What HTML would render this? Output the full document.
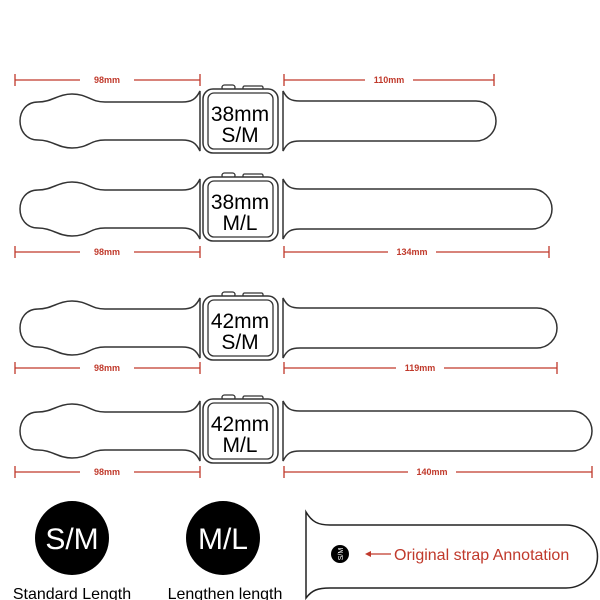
<!DOCTYPE html>
<html><head><meta charset="utf-8"><style>html,body{margin:0;padding:0;background:#fff}svg{display:block}</style></head><body>
<svg width="600" height="600" viewBox="0 0 600 600" xmlns="http://www.w3.org/2000/svg" font-family="Liberation Sans, sans-serif">
<defs>
<g id="lstrap"><path d="M200,-30 C196,-22 192,-19 182,-19 L105,-19 C90,-19 88,-27 72,-27 C58,-27 52,-19 38,-19 C14,-19 14,19 38,19 C52,19 58,27 72,27 C88,27 90,19 105,19 L182,19 C192,19 196,22 200,30 Z" fill="#fff" stroke="#333" stroke-width="1.5"/></g>
<g id="watch">
<rect x="222" y="-36" width="13" height="5" rx="2.5" fill="#fff" stroke="#333" stroke-width="1.3"/>
<rect x="243" y="-35" width="20" height="4" rx="1.5" fill="#fff" stroke="#333" stroke-width="1.3"/>
<rect x="203" y="-32" width="75" height="64" rx="10" fill="#fff" stroke="#333" stroke-width="1.5"/>
<rect x="208" y="-28" width="65" height="56" rx="6" fill="#fff" stroke="#333" stroke-width="1.3"/>
</g>
</defs>
<g stroke="#c0392b" stroke-width="1.3" fill="none">
<path d="M15,74 v12 M15,80 H80 M134,80 H200 M200,74 v12"/>
<path d="M284,74 v12 M284,80 H365 M413,80 H494 M494,74 v12"/>
<path d="M15,246 v12 M15,252 H80 M134,252 H200 M200,246 v12"/>
<path d="M284,246 v12 M284,252 H388 M436,252 H549 M549,246 v12"/>
<path d="M15,362 v12 M15,368 H80 M134,368 H200 M200,362 v12"/>
<path d="M284,362 v12 M284,368 H396 M444,368 H557 M557,362 v12"/>
<path d="M15,466 v12 M15,472 H80 M134,472 H200 M200,466 v12"/>
<path d="M284,466 v12 M284,472 H408 M456,472 H592 M592,466 v12"/>
</g>
<g fill="#c0392b" font-size="9" font-weight="bold" text-anchor="middle">
<text x="107" y="83">98mm</text><text x="389" y="83">110mm</text>
<text x="107" y="255">98mm</text><text x="412" y="255">134mm</text>
<text x="107" y="371">98mm</text><text x="420" y="371">119mm</text>
<text x="107" y="475">98mm</text><text x="432" y="475">140mm</text>
</g>
<g transform="translate(0,121)"><use href="#lstrap"/><use href="#watch"/>
<path d="M283,-30 L283,30 C287,22 291,20 300,20 L476,20 A20,20 0 0 0 476,-20 L300,-20 C291,-20 287,-22 283,-30 Z" fill="#fff" stroke="#333" stroke-width="1.5"/>
<text x="240" y="0" font-size="21" text-anchor="middle">38mm</text><text x="240" y="21" font-size="21" text-anchor="middle">S/M</text></g>
<g transform="translate(0,209)"><use href="#lstrap"/><use href="#watch"/>
<path d="M283,-30 L283,30 C287,22 291,20 300,20 L532,20 A20,20 0 0 0 532,-20 L300,-20 C291,-20 287,-22 283,-30 Z" fill="#fff" stroke="#333" stroke-width="1.5"/>
<text x="240" y="0" font-size="21" text-anchor="middle">38mm</text><text x="240" y="21" font-size="21" text-anchor="middle">M/L</text></g>
<g transform="translate(0,328)"><use href="#lstrap"/><use href="#watch"/>
<path d="M283,-30 L283,30 C287,22 291,20 300,20 L537,20 A20,20 0 0 0 537,-20 L300,-20 C291,-20 287,-22 283,-30 Z" fill="#fff" stroke="#333" stroke-width="1.5"/>
<text x="240" y="0" font-size="21" text-anchor="middle">42mm</text><text x="240" y="21" font-size="21" text-anchor="middle">S/M</text></g>
<g transform="translate(0,431)"><use href="#lstrap"/><use href="#watch"/>
<path d="M283,-30 L283,30 C287,22 291,20 300,20 L572,20 A20,20 0 0 0 572,-20 L300,-20 C291,-20 287,-22 283,-30 Z" fill="#fff" stroke="#333" stroke-width="1.5"/>
<text x="240" y="0" font-size="21" text-anchor="middle">42mm</text><text x="240" y="21" font-size="21" text-anchor="middle">M/L</text></g>
<circle cx="72" cy="538" r="37" fill="#000"/>
<text x="72" y="549" font-size="30" fill="#fff" text-anchor="middle">S/M</text>
<circle cx="223" cy="538" r="37" fill="#000"/>
<text x="223" y="549" font-size="30" fill="#fff" text-anchor="middle">M/L</text>
<text x="72" y="599" font-size="16" text-anchor="middle">Standard Length</text>
<text x="225" y="599" font-size="16" text-anchor="middle">Lengthen length</text>
<path d="M306,512 L306,598 C312,590 318,588 330,588 L566,588 A31.5,31.5 0 0 0 566,525 L330,525 C318,525 312,522 306,512 Z" fill="#fff" stroke="#222" stroke-width="1.5"/>
<circle cx="340" cy="554" r="9" fill="#000"/>
<text x="340" y="557" font-size="7" fill="#fff" text-anchor="middle" transform="rotate(-90 340 554)">S/M</text>
<path d="M367,554 H391" stroke="#c0392b" stroke-width="1.3"/>
<path d="M365,554 L371,551 L371,557 Z" fill="#c0392b"/>
<text x="394" y="560" font-size="16" fill="#c0392b">Original strap Annotation</text>
</svg>
</body></html>
